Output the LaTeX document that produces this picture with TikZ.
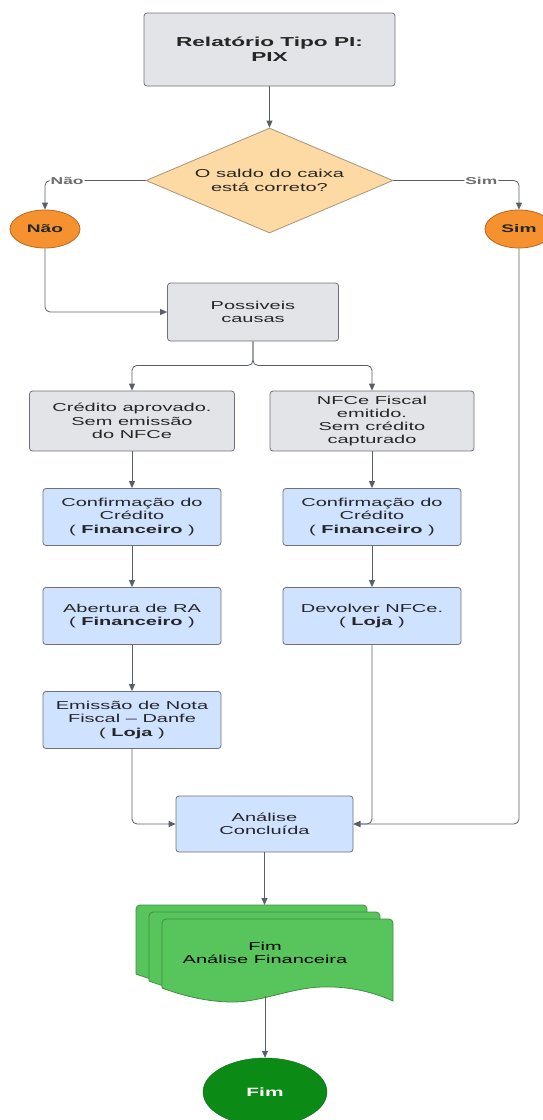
\documentclass[tikz,border=0pt]{standalone}
\usepackage{fontspec}
\setmainfont{Liberation Sans}[FakeStretch=1.74]
\usetikzlibrary{arrows.meta,shapes.geometric}
\definecolor{cinza}{HTML}{E2E4E8}
\definecolor{borda}{HTML}{6E7177}
\definecolor{azul}{HTML}{CFE2FF}
\definecolor{creme}{HTML}{FDD9A3}
\definecolor{cremeb}{HTML}{A8957A}
\definecolor{laranja}{HTML}{F5922F}
\definecolor{laranjab}{HTML}{B8681E}
\definecolor{verde}{HTML}{58C45C}
\definecolor{verdeb}{HTML}{3E8F43}
\definecolor{verdefim}{HTML}{0B8A16}
\definecolor{linha}{HTML}{5A5F66}
\definecolor{txt}{HTML}{262626}
\definecolor{rotulo}{HTML}{6E6E6E}

\begin{document}
\begin{tikzpicture}[x=1pt,y=-1pt,font=\fontsize{11.5}{13.3}\selectfont,
    box/.style={draw=borda,line width=0.8pt,rounded corners=3pt,align=center,text=txt,inner sep=0pt},
    greybox/.style={box,fill=cinza},
    bluebox/.style={box,fill=azul,minimum width=178pt,minimum height=57pt},
    decisao/.style={diamond,draw=cremeb,line width=0.8pt,fill=creme,shape aspect=2.35,minimum width=247pt,minimum height=105pt,inner sep=0pt,align=center,text=txt},
    resp/.style={ellipse,draw=laranjab,line width=0.8pt,fill=laranja,minimum height=38pt,inner sep=0pt,text=txt,font=\fontsize{11}{13}\selectfont\bfseries},
    docs/.style={draw=verdeb,line width=0.8pt,fill=verde},
    fluxo/.style={draw=linha,line width=0.8pt,rounded corners=5pt,-{Triangle[length=7pt,width=6pt]}},
    lbl/.style={fill=white,inner sep=1pt,text=rotulo,font=\fontsize{10}{12}\selectfont\bfseries}]
  \useasboundingbox (0,0) rectangle (542,1120);
  % topo e decisao
  \node[greybox,minimum width=251pt,minimum height=73pt,font=\fontsize{13}{15}\selectfont\bfseries] (rel) at (269.5,49.5) {Relatório Tipo PI:\\PIX};
  \node[decisao] (dec) at (269.5,180.5) {O saldo do caixa\\está correto?};
  \node[resp,minimum width=70pt] (nao) at (45,229) {Não};
  \node[resp,minimum width=68pt] (sim) at (519,229) {Sim};
  % causas
  \node[greybox,minimum width=171pt,minimum height=58pt] (causas) at (253,312) {Possiveis\\causas};
  \node[greybox,minimum width=205pt,minimum height=60pt] (cred) at (132,421) {Crédito aprovado.\\Sem emissão\\do NFCe};
  \node[greybox,minimum width=204pt,minimum height=60pt] (nfce) at (372,421) {NFCe Fiscal\\emitido.\\Sem crédito\\capturado};
  % acoes
  \node[bluebox] (conf1) at (132,517) {Confirmação do\\Crédito\\( \textbf{Financeiro} )};
  \node[bluebox] (conf2) at (372,517) {Confirmação do\\Crédito\\( \textbf{Financeiro} )};
  \node[bluebox] (abre) at (132,616) {Abertura de RA\\( \textbf{Financeiro} )};
  \node[bluebox] (dev) at (372,616) {Devolver NFCe.\\( \textbf{Loja} )};
  \node[bluebox] (emis) at (132,720) {Emissão de Nota\\Fiscal -- Danfe\\( \textbf{Loja} )};
  \node[bluebox,minimum width=177pt,minimum height=56pt] (fecha) at (264.5,824) {Análise\\Concluída};
  % documentos
  \foreach \k in {0,1,2}{
    \draw[docs,shift={(13*\k,7*\k)}] (136,974) [rounded corners=4pt] -- (136,905) -- (367,905) -- (367,925)
      [sharp corners] -- (367,987)
      .. controls (345,977) and (320,972) .. (295,973)
      .. controls (265,974) and (235,988) .. (207,988)
      .. controls (180,988) and (155,981) .. (136,974) -- cycle;
  }
  \node[align=center,text=black] (fimdoc) at (265,953) {Fim\\Análise Financeira};
  \coordinate (doctop) at (265,905);
  \coordinate (docbot) at (265,996);
  \node[ellipse,fill=verdefim,draw=verdefim!80!black,minimum width=124pt,minimum height=68pt,inner sep=0pt,text=white,font=\fontsize{12}{14}\selectfont\bfseries] (fim) at (265,1092) {Fim};
  % ligacoes
  \draw[fluxo] (rel) -- (dec);
  \draw[fluxo] (dec.west) -| node[lbl,pos=0.39]{Não} (nao.north);
  \draw[fluxo] (dec.east) -| node[lbl,pos=0.35]{Sim} (sim.north);
  \draw[fluxo] (nao.south) |- (causas.west);
  \draw[fluxo] (causas.south) -- ++(0,24) -| (cred.north);
  \draw[fluxo] (causas.south) -- ++(0,24) -| (nfce.north);
  \draw[fluxo] (cred) -- (conf1);
  \draw[fluxo] (conf1) -- (abre);
  \draw[fluxo] (abre) -- (emis);
  \draw[fluxo] (nfce) -- (conf2);
  \draw[fluxo] (conf2) -- (dev);
  \draw[fluxo] (emis.south) |- (fecha.west);
  \draw[fluxo] (dev.south) |- (fecha.east);
  \draw[fluxo] (sim.south) |- (fecha.east);
  \draw[fluxo] (fecha.south) -- (fecha.south |- doctop);
  \draw[fluxo] (docbot) -- (fim.north);
\end{tikzpicture}
\end{document}
